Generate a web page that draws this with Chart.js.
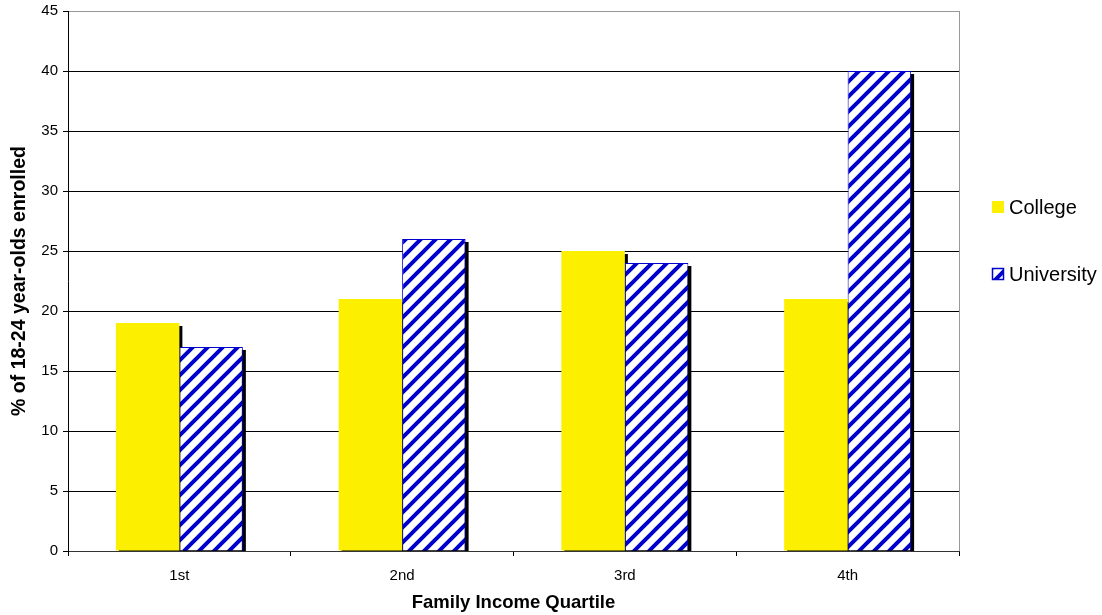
<!DOCTYPE html>
<html>
<head>
<meta charset="utf-8">
<script src="https://cdn.jsdelivr.net/npm/chart.js@4.4.1/dist/chart.umd.min.js"></script>
<style>
  html, body { margin: 0; padding: 0; background: #fff; }
  #wrap { width: 1102px; height: 615px; position: relative; }
</style>
</head>
<body>
<div id="wrap"><canvas id="chart"></canvas></div>
<script>
const quartiles = ["1st", "2nd", "3rd", "4th"]
const college = [19, 21, 25, 21]
const university = [17, 26, 24, 40]
const yTicks = [0, 5, 10, 15, 20, 25, 30, 35, 40, 45]

const FONT = "'Liberation Sans', Arial, sans-serif"
const YELLOW = "#fcf000"
const BLUE = "#0000cc"

// diagonal "/" stripes for the university bars
function stripes() {
  const s = 15
  const c = document.createElement("canvas")
  c.width = s
  c.height = s
  const g = c.getContext("2d")
  g.fillStyle = "#fff"
  g.fillRect(0, 0, s, s)
  g.strokeStyle = BLUE
  g.lineWidth = 4
  g.beginPath()
  g.moveTo(-s / 2, s / 2); g.lineTo(s / 2, -s / 2)
  g.moveTo(0, s); g.lineTo(s, 0)
  g.moveTo(s / 2, s * 1.5); g.lineTo(s * 1.5, s / 2)
  g.stroke()
  return g.createPattern(c, "repeat")
}
const hatch = stripes()

// black drop shadow behind every bar, drawn before the bars themselves
const barShadow = {
  id: "barShadow",
  beforeDatasetsDraw(chart) {
    const ctx = chart.ctx
    const area = chart.chartArea
    ctx.save()
    ctx.beginPath()
    ctx.rect(area.left, area.top, area.right - area.left + 5, area.bottom - area.top)
    ctx.clip()
    ctx.fillStyle = "#000"
    chart.data.datasets.forEach((ds, i) => {
      chart.getDatasetMeta(i).data.forEach((bar) => {
        const { x, y, base, width } = bar.getProps(["x", "y", "base", "width"], true)
        ctx.fillRect(x - width / 2 + 3, y + 3, width, base - y)
      })
    })
    ctx.restore()
  }
}

// plot frame on the right and the legend
const frameAndLegend = {
  id: "frameAndLegend",
  afterDraw(chart) {
    const ctx = chart.ctx
    const area = chart.chartArea
    ctx.save()
    ctx.strokeStyle = "#999"
    ctx.lineWidth = 1
    ctx.beginPath()
    ctx.moveTo(Math.round(area.right) + 0.5, area.top)
    ctx.lineTo(Math.round(area.right) + 0.5, area.bottom)
    ctx.stroke()

    const items = [
      { label: "College", fill: YELLOW, border: null, y: 207 },
      { label: "University", fill: hatch, border: BLUE, y: 274 }
    ]
    ctx.font = "20px " + FONT
    ctx.textBaseline = "middle"
    items.forEach((it) => {
      ctx.fillStyle = it.fill
      ctx.fillRect(992, it.y - 6, 12, 12)
      if (it.border) {
        ctx.strokeStyle = it.border
        ctx.lineWidth = 1.5
        ctx.strokeRect(992.5, it.y - 5.5, 11, 11)
      }
      ctx.fillStyle = "#000"
      ctx.fillText(it.label, 1009, it.y + 1)
    })
    ctx.restore()
  }
}

new Chart(document.getElementById("chart"), {
  type: "bar",
  data: {
    labels: quartiles,
    datasets: [
      {
        label: "College",
        data: college,
        backgroundColor: YELLOW,
        borderWidth: 0
      },
      {
        label: "University",
        data: university,
        backgroundColor: hatch,
        borderColor: BLUE,
        borderWidth: 1
      }
    ]
  },
  options: {
    responsive: true,
    maintainAspectRatio: false,
    animation: false,
    events: [],
    categoryPercentage: 0.57,
    barPercentage: 1,
    layout: { padding: { top: 11, right: 143, left: 0, bottom: 0 } },
    plugins: {
      legend: { display: false },
      tooltip: { enabled: false }
    },
    scales: {
      x: {
        type: "category",
        afterFit: (axis) => {
          axis.height = 64
          axis.paddingLeft = 0
          axis.paddingRight = 0
        },
        grid: {
          offset: true,
          drawOnChartArea: false,
          tickLength: 5,
          color: "#000"
        },
        border: { color: "#333", width: 1 },
        ticks: {
          color: "#000",
          font: { family: FONT, size: 15 },
          padding: 11
        },
        title: {
          display: true,
          text: "Family Income Quartile",
          color: "#000",
          font: { family: FONT, size: 18.5, weight: "bold" },
          padding: { top: 1, bottom: 1 }
        }
      },
      y: {
        min: 0,
        max: 45,
        afterFit: (axis) => {
          axis.width = 68
          axis.paddingTop = 0
          axis.paddingBottom = 0
        },
        afterBuildTicks: (axis) => { axis.ticks = yTicks.map((v) => ({ value: v })) },
        grid: {
          color: (c) => (c.tick && c.tick.value === 45 ? "#999" : "#000"),
          tickColor: "#000",
          tickLength: 5,
          lineWidth: 1
        },
        border: { color: "#000", width: 1 },
        ticks: {
          color: "#000",
          font: { family: FONT, size: 15 },
          padding: 5
        },
        title: {
          display: true,
          text: "% of 18-24 year-olds enrolled",
          color: "#000",
          font: { family: FONT, size: 19.5, weight: "bold" },
          padding: { top: 8, bottom: 2 }
        }
      }
    }
  },
  plugins: [barShadow, frameAndLegend]
})
</script>
</body>
</html>
